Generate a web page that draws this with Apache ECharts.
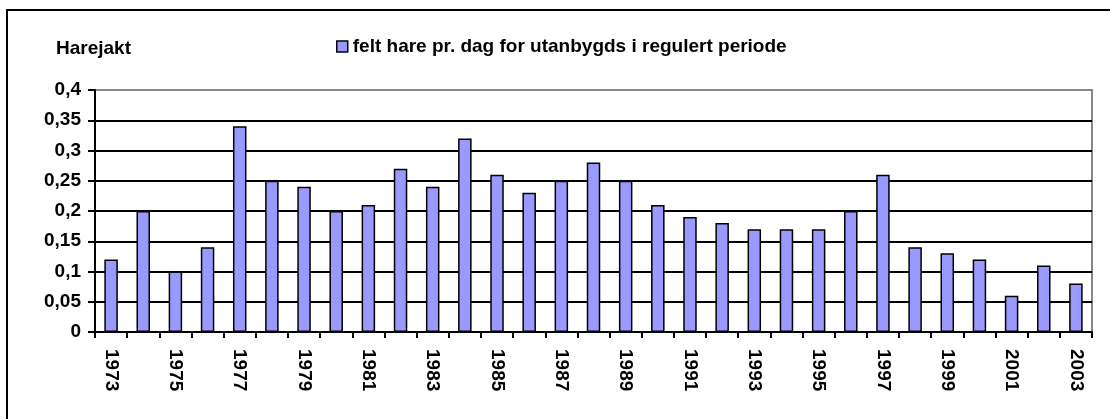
<!DOCTYPE html>
<html>
<head>
<meta charset="utf-8">
<script src="https://cdn.jsdelivr.net/npm/echarts@6/dist/echarts.min.js"></script>
<style>
  html, body { margin: 0; padding: 0; background: #fff; }
  #chart { width: 1110px; height: 419px; }
</style>
</head>
<body>
<div id="chart"></div>
<script>
// data
var years = ["1973", "1974", "1975", "1976", "1977", "1978", "1979", "1980", "1981", "1982",
  "1983", "1984", "1985", "1986", "1987", "1988", "1989", "1990", "1991", "1992",
  "1993", "1994", "1995", "1996", "1997", "1998", "1999", "2000", "2001", "2002", "2003"];
var hareValues = [0.12, 0.20, 0.10, 0.14, 0.34, 0.25, 0.24, 0.20, 0.21, 0.27,
  0.24, 0.32, 0.26, 0.23, 0.25, 0.28, 0.25, 0.21, 0.19, 0.18,
  0.17, 0.17, 0.17, 0.20, 0.26, 0.14, 0.13, 0.12, 0.06, 0.11, 0.08];
var seriesName = "felt hare pr. dag for utanbygds i regulert periode";

var font = "'Liberation Sans', Arial, sans-serif";
var chart = echarts.init(document.getElementById("chart"));

chart.setOption({
  animation: false,
  backgroundColor: "#fff",
  textStyle: { fontFamily: font },
  title: {
    text: "Harejakt",
    left: 51,
    top: 34,
    textStyle: { fontFamily: font, fontSize: 19, fontWeight: "bold", color: "#000" }
  },
  legend: {
    data: [seriesName],
    left: 331,
    top: 32,
    icon: "rect",
    itemWidth: 11,
    itemHeight: 11,
    itemGap: 5,
    itemStyle: { borderColor: "#000", borderWidth: 1.5 },
    textStyle: { fontFamily: font, fontSize: 19, fontWeight: "bold", color: "#000", padding: [0, 0, 0, 0] }
  },
  grid: {
    left: 95,
    right: 18,
    top: 90,
    bottom: 87,
    show: true,
    borderColor: "#888",
    borderWidth: 2
  },
  xAxis: {
    type: "category",
    data: years,
    axisLine: { lineStyle: { color: "#000", width: 2 } },
    axisTick: { show: true, interval: 0, length: 6, lineStyle: { color: "#000", width: 2 } },
    axisLabel: {
      interval: 1,
      rotate: -90,
      margin: 17,
      color: "#000",
      fontFamily: font,
      fontSize: 19,
      fontWeight: "bold"
    }
  },
  yAxis: {
    type: "value",
    min: 0,
    max: 0.4,
    interval: 0.05,
    axisLine: { show: true, lineStyle: { color: "#000", width: 2 } },
    axisTick: { show: true, length: 7, lineStyle: { color: "#000", width: 2 } },
    axisLabel: {
      margin: 14,
      color: "#000",
      fontFamily: font,
      fontSize: 19,
      fontWeight: "bold",
      formatter: function (v) {
        return String(+v.toFixed(2)).replace(".", ",");
      }
    },
    splitLine: { show: true, showMaxLine: false, lineStyle: { color: "#000", width: 2 } }
  },
  series: [
    {
      name: seriesName,
      type: "bar",
      data: hareValues,
      barWidth: "42%",
      itemStyle: { color: "#9999ff", borderColor: "#000", borderWidth: 1.5 }
    }
  ],
  graphic: [
    {
      type: "rect",
      shape: { x: 7, y: 10, width: 1200, height: 500 },
      style: { fill: null, stroke: "#000", lineWidth: 2 },
      silent: true
    }
  ]
});
</script>
</body>
</html>
